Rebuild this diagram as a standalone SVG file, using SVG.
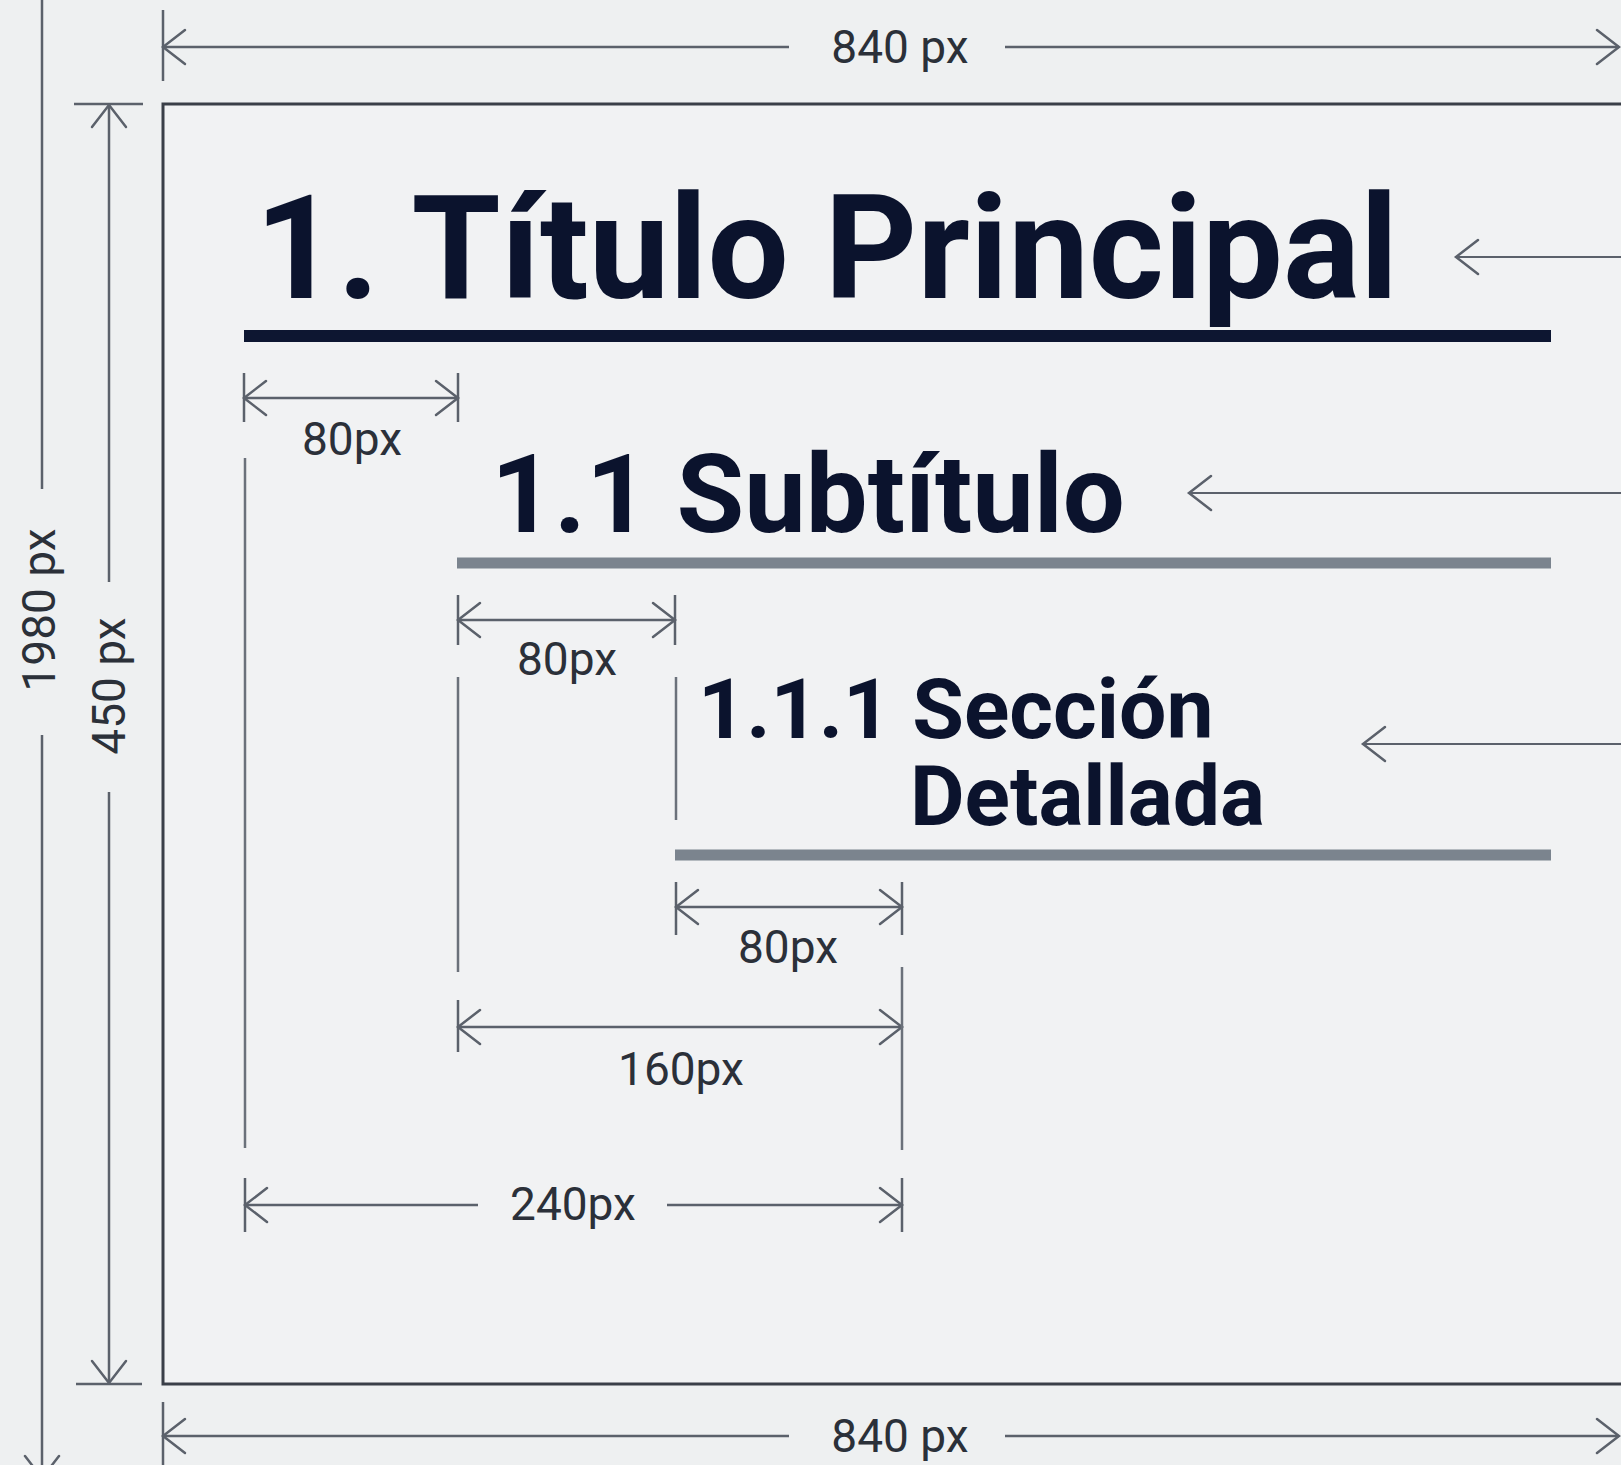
<svg xmlns="http://www.w3.org/2000/svg" width="1621" height="1465" viewBox="0 0 1621 1465">
  <style>
    .dim { stroke: #5b616b; stroke-width: 2.5; fill: none; }
    .tick { stroke: #5b616b; stroke-width: 2.5; }
    .guide { stroke: #6b717a; stroke-width: 2.5; }
    .frame { stroke: #3a3f48; stroke-width: 3; fill: #f1f2f3; }
    .ptr { stroke: #5b616b; stroke-width: 2; fill: none; }
    .lbl { font-family: Roboto, "Liberation Sans", sans-serif; font-size: 46px; fill: #2b3039; text-anchor: middle; }
    .h { font-family: Roboto, "Liberation Sans", sans-serif; font-weight: 700; fill: #0b132d; }
  </style>
  <defs>
    <marker id="ah" viewBox="-28 -22 32 44" refX="0" refY="0" markerWidth="32" markerHeight="44" markerUnits="userSpaceOnUse" orient="auto-start-reverse">
      <path d="M-22,-17 L0,0 L-22,17" fill="none" stroke="#5b616b" stroke-width="2.5" stroke-linecap="round" stroke-linejoin="miter"/>
    </marker>
  </defs>
  <rect width="1621" height="1465" fill="#eef0f1"/>

  <g id="frame">
    <rect class="frame" x="163" y="104" width="1500" height="1280"/>
  </g>

  <g id="title">
    <text class="h" x="255" y="298" font-size="144">1. Título Principal</text>
    <line x1="244" y1="336" x2="1551" y2="336" stroke="#0d1631" stroke-width="12"/>
  </g>
  <g id="subtitle">
    <text class="h" x="491" y="532" font-size="110">1.1 Subtítulo</text>
    <line x1="457" y1="563" x2="1551" y2="563" stroke="#7b848e" stroke-width="11"/>
  </g>
  <g id="section">
    <text class="h" font-size="84"><tspan x="698" y="738">1.1.1 Sección</tspan><tspan x="910" y="825">Detallada</tspan></text>
    <line x1="675" y1="855" x2="1551" y2="855" stroke="#7b848e" stroke-width="11"/>
  </g>

  <g id="connectors">
    <line class="tick" x1="163" y1="10" x2="163" y2="81"/>
    <line class="dim" x1="163" y1="47" x2="789" y2="47" marker-start="url(#ah)"/>
    <line class="dim" x1="1005" y1="47" x2="1619" y2="47" marker-end="url(#ah)"/>
    <line class="tick" x1="163" y1="1402" x2="163" y2="1472"/>
    <line class="dim" x1="163" y1="1436" x2="789" y2="1436" marker-start="url(#ah)"/>
    <line class="dim" x1="1005" y1="1436" x2="1619" y2="1436" marker-end="url(#ah)"/>
    <line class="dim" x1="42" y1="-10" x2="42" y2="489"/>
    <line class="dim" x1="42" y1="735" x2="42" y2="1478" marker-end="url(#ah)"/>
    <line class="tick" x1="74" y1="104" x2="143" y2="104"/>
    <line class="dim" x1="109" y1="105" x2="109" y2="582" marker-start="url(#ah)"/>
    <line class="dim" x1="109" y1="792" x2="109" y2="1383" marker-end="url(#ah)"/>
    <line class="tick" x1="76" y1="1384" x2="142" y2="1384"/>
    <line class="ptr" x1="1625" y1="257" x2="1456" y2="257" marker-end="url(#ah)"/>
    <line class="ptr" x1="1625" y1="493" x2="1189" y2="493" marker-end="url(#ah)"/>
    <line class="ptr" x1="1625" y1="744" x2="1363" y2="744" marker-end="url(#ah)"/>
    <line class="tick" x1="244" y1="373" x2="244" y2="422"/>
    <line class="tick" x1="458" y1="373" x2="458" y2="422"/>
    <line class="dim" x1="244" y1="398" x2="458" y2="398" marker-start="url(#ah)" marker-end="url(#ah)"/>
    <line class="tick" x1="458" y1="595" x2="458" y2="645"/>
    <line class="tick" x1="675" y1="595" x2="675" y2="645"/>
    <line class="dim" x1="458" y1="620" x2="675" y2="620" marker-start="url(#ah)" marker-end="url(#ah)"/>
    <line class="tick" x1="676" y1="882" x2="676" y2="935"/>
    <line class="tick" x1="902" y1="882" x2="902" y2="935"/>
    <line class="dim" x1="676" y1="907" x2="902" y2="907" marker-start="url(#ah)" marker-end="url(#ah)"/>
    <line class="tick" x1="458" y1="1000" x2="458" y2="1052"/>
    <line class="dim" x1="458" y1="1027" x2="902" y2="1027" marker-start="url(#ah)" marker-end="url(#ah)"/>
    <line class="tick" x1="245" y1="1178" x2="245" y2="1232"/>
    <line class="tick" x1="902" y1="1178" x2="902" y2="1232"/>
    <line class="dim" x1="245" y1="1205" x2="478" y2="1205" marker-start="url(#ah)"/>
    <line class="dim" x1="667" y1="1205" x2="902" y2="1205" marker-end="url(#ah)"/>
    <line class="guide" x1="245" y1="458" x2="245" y2="1148"/>
    <line class="guide" x1="458" y1="677" x2="458" y2="972"/>
    <line class="guide" x1="676" y1="677" x2="676" y2="820"/>
    <line class="guide" x1="902" y1="967" x2="902" y2="1150"/>
  </g>

  <g id="labels">
    <text class="lbl" x="900" y="63">840 px</text>
    <text class="lbl" x="900" y="1452">840 px</text>
    <text class="lbl" transform="translate(55,610) rotate(-90)">1980 px</text>
    <text class="lbl" transform="translate(125,686) rotate(-90)">450 px</text>
    <text class="lbl" x="352" y="455">80px</text>
    <text class="lbl" x="567" y="675">80px</text>
    <text class="lbl" x="788" y="963">80px</text>
    <text class="lbl" x="681" y="1085">160px</text>
    <text class="lbl" x="573" y="1220">240px</text>
  </g>
</svg>
